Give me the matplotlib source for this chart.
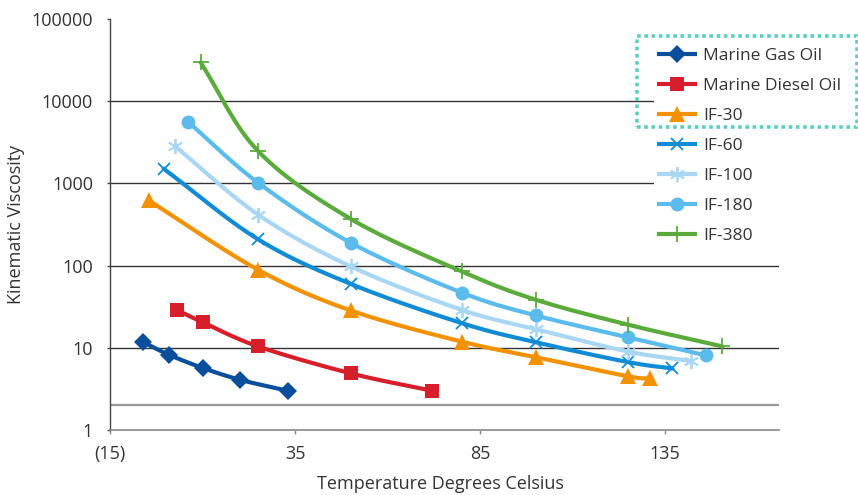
import numpy as np
import matplotlib
matplotlib.use("Agg")
import matplotlib.pyplot as plt
from matplotlib.patches import Rectangle

plt.rcParams['font.family'] = ['Open Sans', 'DejaVu Sans']

# ---- data ----
series_names = ["Marine Gas Oil", "Marine Diesel Oil", "IF-30", "IF-60", "IF-100", "IF-180", "IF-380"]

mgo_t = [-6, 1, 10, 20, 33]
mgo_v = [11.7, 8.2, 5.7, 4.1, 3.0]

mdo_t = [3, 10, 25, 50, 72]
mdo_v = [29, 20.5, 10.4, 4.9, 3.0]

if30_t = [-4.5, 25, 50, 80, 100, 125, 131]
if30_v = [620, 89, 28.5, 11.9, 7.7, 4.5, 4.25]

if60_t = [-0.5, 25, 50, 80, 100, 125, 137]
if60_v = [1510, 209, 60, 20, 11.7, 6.7, 5.6]

if100_t = [2.5, 25, 50, 80, 100, 125, 142]
if100_v = [2850, 418, 98, 29, 16.9, 9.0, 6.9]

if180_t = [6, 25, 50, 80, 100, 125, 146]
if180_v = [5660, 1020, 190, 47, 24.8, 13.4, 8.1]

if380_t = [9.5, 25, 50, 80, 100, 125, 150.5]
if380_v = [29600, 2480, 371, 85, 38.5, 19.1, 10.4]

x_ticks = [-15, 35, 85, 135]
x_ticklabels = ["(15)", "35", "85", "135"]
y_ticks = [1, 10, 100, 1000, 10000, 100000]
y_ticklabels = ["1", "10", "100", "1000", "10000", "100000"]

# ---- styles ----
colors = ["#0b4f9c", "#d71f2b", "#f39200", "#118cd4", "#a9d7f3", "#5bbbea", "#5aab3b"]
markers = ["D", "s", "^", "x", (6, 2, 0), "o", "+"]
msizes = [9, 10.5, 11, 9, 11, 10, 12]
medge = [0, 0, 0, 1.3, 1.3, 0, 1.3]

def catmull(xs, ys, n=30):
    xs = np.asarray(xs, float); ys = np.log10(np.asarray(ys, float))
    P = np.column_stack([xs, ys])
    P = np.vstack([P[0] - (P[1] - P[0]), P, P[-1] + (P[-1] - P[-2])])
    out = []
    for i in range(1, len(P) - 2):
        p0, p1, p2, p3 = P[i - 1], P[i], P[i + 1], P[i + 2]
        t = np.linspace(0, 1, n)[:, None]
        seg = 0.5 * ((2 * p1) + (-p0 + p2) * t + (2 * p0 - 5 * p1 + 4 * p2 - p3) * t ** 2
                     + (-p0 + 3 * p1 - 3 * p2 + p3) * t ** 3)
        out.append(seg)
    out = np.vstack(out)
    return out[:, 0], 10 ** out[:, 1]

W, H = 858, 495
fig = plt.figure(figsize=(W / 100, H / 100), dpi=100)
ax = fig.add_axes([110 / W, 1 - 430 / H, 669 / W, 411 / H])
ax.set_yscale('log')
ax.set_xlim(-15, 165.8)
ax.set_ylim(1, 100000)

for y in [10, 100, 1000, 10000]:
    ax.axhline(y, color="#333333", lw=1.0, zorder=1)
ax.axhline(2, color="#9a9a9a", lw=1.6, zorder=1)

data = [(mgo_t, mgo_v), (mdo_t, mdo_v), (if30_t, if30_v), (if60_t, if60_v),
        (if100_t, if100_v), (if180_t, if180_v), (if380_t, if380_v)]
for (t, v), name, c, m, ms, mew in zip(data, series_names, colors, markers, msizes, medge):
    sx, sy = catmull(t, v)
    ax.plot(sx, sy, color=c, lw=3.0, zorder=3, solid_capstyle='round')
    ax.plot(t, v, linestyle='none', marker=m, markersize=ms, color=c,
            markeredgewidth=mew if mew else 0, zorder=4)
    ax.plot([], [], color=c, lw=3.0, marker=m, markersize=ms,
            markeredgewidth=mew if mew else 0, label=name)

for s in ['top', 'right']:
    ax.spines[s].set_visible(False)
ax.spines['left'].set_color('#444444')
ax.spines['bottom'].set_color('#888888')
ax.spines['left'].set_linewidth(1.0)
ax.spines['bottom'].set_linewidth(1.2)

ax.set_xticks(x_ticks)
ax.set_xticklabels(x_ticklabels)
ax.set_yticks(y_ticks)
ax.set_yticklabels(y_ticklabels)
ax.yaxis.set_minor_locator(matplotlib.ticker.NullLocator())
ax.tick_params(axis='y', length=2.2, width=1, color='#444444', labelsize=13, labelcolor='#333333', pad=10)
ax.tick_params(axis='x', length=2.9, width=1, color='#888888', labelsize=13, labelcolor='#333333', pad=8)

ax.set_ylabel("Kinematic Viscosity", fontsize=13, color='#333333', labelpad=5)
fig.text(440 / W, 1 - 484 / H, "Temperature Degrees Celsius", fontsize=13, color='#333333',
         ha='center', va='center')

leg = fig.legend(loc='upper left', bbox_to_anchor=(645 / W, 1 - 34 / H), frameon=True,
                 fontsize=12.5, handlelength=2.1, labelspacing=0.8, handletextpad=0.45,
                 borderpad=0.3, labelcolor='#333333')
leg.get_frame().set_facecolor('white')
leg.get_frame().set_edgecolor('none')
leg.get_frame().set_alpha(1)

rect = Rectangle((637 / W, 1 - 127 / H), 220 / W, 91 / H, transform=fig.transFigure,
                 fill=False, edgecolor='#5ccfc0', lw=2.6, linestyle=(0, (1, 1)), zorder=10)
fig.patches.append(rect)

fig.savefig("out.png", dpi=100)
